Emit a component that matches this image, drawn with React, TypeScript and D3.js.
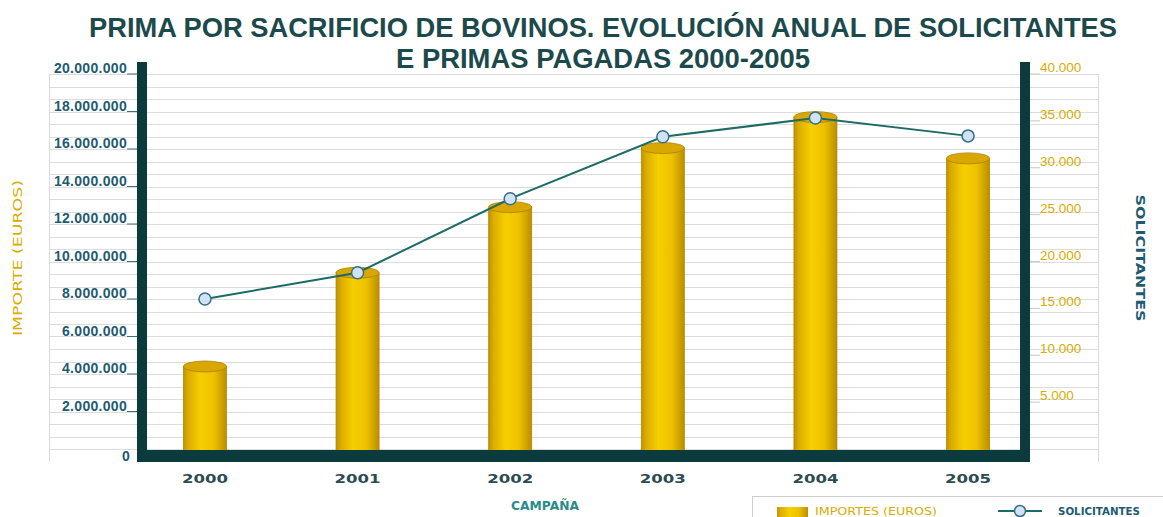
import React, { useEffect, useRef } from 'react';
import * as d3 from 'd3';

const years = ['2000', '2001', '2002', '2003', '2004', '2005'];
const importes = [4400000, 9400000, 12900000, 16050000, 17700000, 15500000];
const solicitantes = [16000, 18800, 26700, 33300, 35300, 33400];
const leftTicks = [0, 2000000, 4000000, 6000000, 8000000, 10000000, 12000000, 14000000, 16000000, 18000000, 20000000];
const rightTicks = [5000, 10000, 15000, 20000, 25000, 30000, 35000, 40000];

const App = () => {
  const chartRef = useRef<SVGSVGElement>(null);

  useEffect(() => {
    const width = 1163;
    const height = 517;
    const svg = d3.select(chartRef.current);
    svg.selectAll('*').remove();
    svg.attr('width', width).attr('height', height);

    const dark = '#0c3b3e';
    const teal = '#1e5b70';
    const gold = '#d8ac00';

    const plotLeft = 147;
    const plotRight = 1020;
    const plotTop = 74;
    const plotBottom = 449;

    const x = d3.scalePoint<string>().domain(years).range([plotLeft + 3, plotRight + 3]).padding(0.36);
    const yLeft = d3.scaleLinear().domain([0, 20000000]).range([plotBottom, plotTop]);
    const yRight = d3.scaleLinear().domain([0, 40000]).range([plotBottom, plotTop]);
    const loc = d3.formatLocale({ decimal: ',', thousands: '.', grouping: [3], currency: ['', '€'] });
    const fmt = loc.format(',d');

    const defs = svg.append('defs');
    const grad = defs.append('linearGradient').attr('id', 'cyl').attr('x1', '0%').attr('x2', '100%');
    grad.append('stop').attr('offset', '0%').attr('stop-color', '#c29300');
    grad.append('stop').attr('offset', '12%').attr('stop-color', '#dcae00');
    grad.append('stop').attr('offset', '40%').attr('stop-color', '#f6cf00');
    grad.append('stop').attr('offset', '70%').attr('stop-color', '#eec200');
    grad.append('stop').attr('offset', '100%').attr('stop-color', '#bb8e00');

    // title
    const title = svg.append('g')
      .attr('font-family', '"Liberation Sans", Arial, sans-serif')
      .attr('font-weight', 'bold')
      .attr('font-size', 27)
      .attr('fill', '#1c4a4c')
      .attr('text-anchor', 'middle');
    title.append('text').attr('x', 603).attr('y', 37)
      .attr('textLength', 1028).attr('lengthAdjust', 'spacingAndGlyphs')
      .text('PRIMA POR SACRIFICIO DE BOVINOS. EVOLUCIÓN ANUAL DE SOLICITANTES');
    title.append('text').attr('x', 603).attr('y', 68)
      .attr('textLength', 414).attr('lengthAdjust', 'spacingAndGlyphs')
      .text('E PRIMAS PAGADAS 2000-2005');

    // grid lines
    const grid = svg.append('g').attr('stroke', '#dcdcdc').attr('stroke-width', 1);
    grid.selectAll('line')
      .data(d3.range(0, 30 + 1).map(i => (20000000 / 30) * i))
      .enter()
      .append('line')
      .attr('x1', 49).attr('x2', 1098)
      .attr('y1', d => Math.round(yLeft(d)) + 0.5)
      .attr('y2', d => Math.round(yLeft(d)) + 0.5);
    grid.append('line').attr('x1', 49.5).attr('x2', 49.5).attr('y1', plotTop).attr('y2', 462);
    grid.append('line').attr('x1', 1098.5).attr('x2', 1098.5).attr('y1', plotTop).attr('y2', 462);

    // cylinders
    const barW = 43;
    const bars = svg.selectAll('g.bar')
      .data(importes)
      .enter()
      .append('g')
      .attr('class', 'bar');
    bars.append('rect')
      .attr('x', (d, i) => (x(years[i]) as number) - barW / 2)
      .attr('y', d => yLeft(d))
      .attr('width', barW)
      .attr('height', d => 452 - yLeft(d))
      .attr('fill', 'url(#cyl)')
      .attr('stroke', '#b08800')
      .attr('stroke-width', 0.8);
    bars.append('ellipse')
      .attr('cx', (d, i) => x(years[i]) as number)
      .attr('cy', d => yLeft(d))
      .attr('rx', barW / 2)
      .attr('ry', 5.5)
      .attr('fill', '#d9a700')
      .attr('stroke', '#a98300')
      .attr('stroke-width', 0.8);

    // frame
    svg.append('rect').attr('x', 137).attr('y', 62).attr('width', 10).attr('height', 400).attr('fill', dark);
    svg.append('rect').attr('x', 1020).attr('y', 62).attr('width', 10).attr('height', 400).attr('fill', dark);
    svg.append('rect').attr('x', 137).attr('y', 450).attr('width', 893).attr('height', 12).attr('fill', dark);

    // left axis
    const la = svg.append('g')
      .attr('font-family', '"Liberation Sans", Arial, sans-serif')
      .attr('font-size', 14)
      .attr('font-weight', 'bold')
      .attr('fill', teal);
    leftTicks.forEach(t => {
      const yy = yLeft(t);
      if (t > 0) {
        la.append('line').attr('x1', 127).attr('x2', 137).attr('y1', yy).attr('y2', yy)
          .attr('stroke', '#3d6f80').attr('stroke-width', 1);
      }
      la.append('text')
        .attr('x', t > 0 ? 127 : 130)
        .attr('y', t > 0 ? yy - 1 : yy + 12)
        .attr('text-anchor', 'end')
        .attr('letter-spacing', 0.3)
        .text(fmt(t));
    });

    // right axis
    const ra = svg.append('g')
      .attr('font-family', '"Liberation Sans", Arial, sans-serif')
      .attr('font-size', 13.5)
      .attr('fill', gold);
    rightTicks.forEach(t => {
      const yy = yRight(t);
      ra.append('line').attr('x1', 1030).attr('x2', 1040).attr('y1', yy).attr('y2', yy)
        .attr('stroke', '#c8c8c8').attr('stroke-width', 1);
      ra.append('text').attr('x', 1040).attr('y', yy - 2).text(fmt(t));
    });

    // year labels
    const xa = svg.append('g')
      .attr('font-family', '"DejaVu Sans", sans-serif')
      .attr('font-weight', 'bold')
      .attr('font-size', 13)
      .attr('fill', '#2c4b50')
      .attr('text-anchor', 'middle');
    years.forEach(yr => {
      xa.append('text').attr('x', x(yr) as number).attr('y', 483)
        .attr('textLength', 46).attr('lengthAdjust', 'spacingAndGlyphs')
        .text(yr);
    });

    // axis titles
    svg.append('text')
      .attr('transform', 'translate(22, 258) rotate(-90)')
      .attr('text-anchor', 'middle')
      .attr('font-family', '"DejaVu Sans", sans-serif')
      .attr('font-size', 12)
      .attr('fill', gold)
      .attr('textLength', 156).attr('lengthAdjust', 'spacingAndGlyphs')
      .text('IMPORTE (EUROS)');
    svg.append('text')
      .attr('transform', 'translate(1136, 258) rotate(90)')
      .attr('text-anchor', 'middle')
      .attr('font-family', '"DejaVu Sans", sans-serif')
      .attr('font-weight', 'bold')
      .attr('font-size', 12)
      .attr('fill', teal)
      .attr('textLength', 127).attr('lengthAdjust', 'spacingAndGlyphs')
      .text('SOLICITANTES');
    svg.append('text')
      .attr('x', 545).attr('y', 510)
      .attr('text-anchor', 'middle')
      .attr('font-family', '"DejaVu Sans", sans-serif')
      .attr('font-weight', 'bold')
      .attr('font-size', 13)
      .attr('fill', '#2a8a8c')
      .attr('textLength', 68).attr('lengthAdjust', 'spacingAndGlyphs')
      .text('CAMPAÑA');

    // line
    const line = d3.line<number>()
      .x((d, i) => x(years[i]) as number)
      .y(d => yRight(d));
    svg.append('path')
      .datum(solicitantes)
      .attr('d', line)
      .attr('fill', 'none')
      .attr('stroke', '#1d6b68')
      .attr('stroke-width', 2);
    svg.selectAll('circle.pt')
      .data(solicitantes)
      .enter()
      .append('circle')
      .attr('class', 'pt')
      .attr('cx', (d, i) => x(years[i]) as number)
      .attr('cy', d => yRight(d))
      .attr('r', 6)
      .attr('fill', '#cfe3f2')
      .attr('stroke', '#3b6e86')
      .attr('stroke-width', 1.5);

    // legend
    const lg = svg.append('g');
    lg.append('rect').attr('x', 752.5).attr('y', 496.5).attr('width', 430).attr('height', 40)
      .attr('fill', 'white').attr('stroke', '#cfcfcf');
    lg.append('rect').attr('x', 777).attr('y', 507).attr('width', 31).attr('height', 12).attr('fill', 'url(#cyl)');
    lg.append('text').attr('x', 815).attr('y', 515)
      .attr('font-family', '"DejaVu Sans", sans-serif').attr('font-size', 10).attr('fill', gold)
      .attr('textLength', 122).attr('lengthAdjust', 'spacingAndGlyphs')
      .text('IMPORTES (EUROS)');
    lg.append('line').attr('x1', 998).attr('x2', 1042).attr('y1', 511).attr('y2', 511)
      .attr('stroke', '#1d6b68').attr('stroke-width', 2);
    lg.append('circle').attr('cx', 1020).attr('cy', 511).attr('r', 5.5)
      .attr('fill', '#cfe3f2').attr('stroke', '#3b6e86').attr('stroke-width', 1.5);
    lg.append('text').attr('x', 1058).attr('y', 515)
      .attr('font-family', '"DejaVu Sans", sans-serif').attr('font-weight', 'bold').attr('font-size', 10).attr('fill', teal)
      .attr('textLength', 82).attr('lengthAdjust', 'spacingAndGlyphs')
      .text('SOLICITANTES');
  }, []);

  return <svg ref={chartRef} style={{ position: 'absolute', left: 0, top: 0, background: 'white' }}></svg>;
};

export default App;
